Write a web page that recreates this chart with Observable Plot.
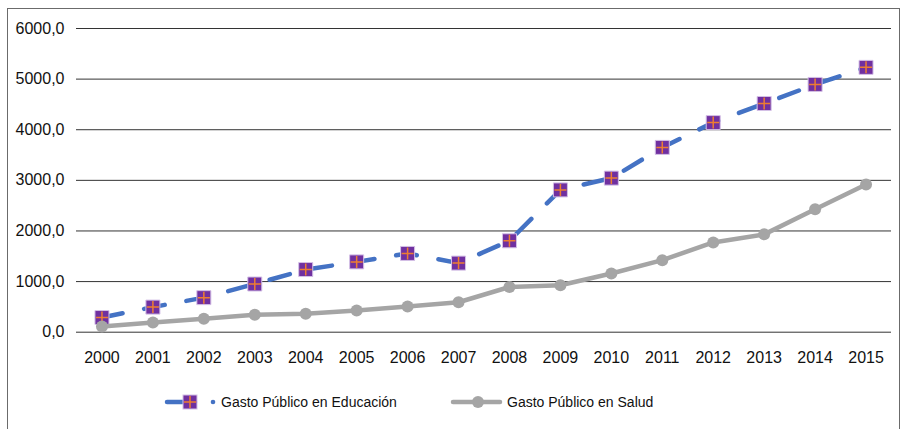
<!DOCTYPE html>
<html>
<head>
<meta charset="utf-8">
<script src="https://cdn.jsdelivr.net/npm/d3@7"></script>
<script src="https://cdn.jsdelivr.net/npm/@observablehq/plot@0.6"></script>
<style>
  html, body { margin: 0; padding: 0; background: #fff; }
  #wrap { position: relative; width: 906px; height: 429px; overflow: hidden; font-family: "Liberation Sans", Arial, sans-serif; }
  #frame { position: absolute; left: 7px; top: 8px; width: 893px; height: 440px; border: 1.5px solid #6b6b6b; box-sizing: border-box; }
  #chart { position: absolute; left: 0; top: 0; }
  #legend { position: absolute; left: 0; top: 388px; }
</style>
</head>
<body>
<div id="wrap">
  <div id="frame"></div>
  <div id="chart"></div>
  <div id="legend"></div>
</div>
<script>
const years = ["2000","2001","2002","2003","2004","2005","2006","2007","2008","2009","2010","2011","2012","2013","2014","2015"];
const educacion = [290, 496, 683, 952, 1238, 1389, 1556, 1365, 1806, 2811, 3044, 3651, 4141, 4518, 4895, 5232];
const salud = [113, 192, 265, 345, 365, 431, 510, 592, 893, 927, 1159, 1423, 1774, 1933, 2429, 2917];
const yTicks = [0, 1000, 2000, 3000, 4000, 5000, 6000];
const seriesNames = ["Gasto Público en Educación", "Gasto Público en Salud"];

const eduColor = "#4472C4";
const eduMarker = "#7030A0";
const crossColor = "#ED7D31";
const saludColor = "#A5A5A5";

const eduData = years.map((y, i) => ({year: y, value: educacion[i]}));
const saludData = years.map((y, i) => ({year: y, value: salud[i]}));

const crossSymbol = {
  draw(ctx, size) {
    const r = Math.sqrt(size / Math.PI);
    ctx.moveTo(-r, 0); ctx.lineTo(r, 0);
    ctx.moveTo(0, -r); ctx.lineTo(0, r);
  }
};

const fmt = d => d.toFixed(1).replace(".", ",");

const chart = Plot.plot({
  width: 906,
  height: 380,
  marginLeft: 76,
  marginRight: 15,
  marginTop: 28,
  marginBottom: 48.3,
  style: {fontFamily: "Liberation Sans, Arial, sans-serif", fontSize: "16px", background: "transparent", color: "#111"},
  x: {type: "point", domain: years, padding: 0.5, round: false, label: null},
  y: {domain: [0, 6000], label: null},
  marks: [
    Plot.gridY(yTicks, {stroke: "#333", strokeOpacity: 1, strokeWidth: 1}),
    Plot.axisY(yTicks, {tickSize: 0, tickPadding: 12, tickFormat: fmt, fontSize: 16, label: null}),
    Plot.axisX({tickSize: 0, tickPadding: 19, fontSize: 16, label: null}),
    Plot.line(eduData, {x: "year", y: "value", stroke: eduColor, strokeWidth: 4.5, strokeDasharray: "21,22", strokeLinecap: "round"}),
    Plot.dot(eduData, {x: "year", y: "value", symbol: "square", r: 7.9, fill: eduMarker, stroke: "#d4c0e6", strokeWidth: 1}),
    Plot.dot(eduData, {x: "year", y: "value", symbol: crossSymbol, r: 6, fill: "none", stroke: crossColor, strokeWidth: 1.5}),
    Plot.line(saludData, {x: "year", y: "value", stroke: saludColor, strokeWidth: 4.5}),
    Plot.dot(saludData, {x: "year", y: "value", r: 6, fill: saludColor, stroke: "none"})
  ]
});
document.getElementById("chart").appendChild(chart);

// Legend
const ns = "http://www.w3.org/2000/svg";
const leg = document.createElementNS(ns, "svg");
leg.setAttribute("width", 906);
leg.setAttribute("height", 30);
leg.style.fontFamily = "Liberation Sans, Arial, sans-serif";
const cy = 14;
function el(tag, attrs) {
  const e = document.createElementNS(ns, tag);
  for (const k in attrs) e.setAttribute(k, attrs[k]);
  leg.appendChild(e);
  return e;
}
// Educación swatch
el("line", {x1: 167, y1: cy, x2: 195, y2: cy, stroke: eduColor, "stroke-width": 4.5, "stroke-linecap": "round"});
el("circle", {cx: 213, cy: cy, r: 2.3, fill: eduColor});
el("rect", {x: 183, y: cy - 7, width: 14, height: 14, fill: eduMarker, stroke: "#d4c0e6", "stroke-width": 1});
el("path", {d: `M184,${cy}H196M190,${cy - 6}V${cy + 6}`, stroke: crossColor, "stroke-width": 1.5, fill: "none"});
const t1 = el("text", {x: 221, y: cy, "font-size": 14, dy: "0.35em", fill: "#111"});
t1.textContent = seriesNames[0];
// Salud swatch
el("line", {x1: 453, y1: cy, x2: 500, y2: cy, stroke: saludColor, "stroke-width": 4.5, "stroke-linecap": "round"});
el("circle", {cx: 478, cy: cy, r: 6, fill: saludColor});
const t2 = el("text", {x: 507, y: cy, "font-size": 14, dy: "0.35em", fill: "#111"});
t2.textContent = seriesNames[1];
document.getElementById("legend").appendChild(leg);
</script>
</body>
</html>
